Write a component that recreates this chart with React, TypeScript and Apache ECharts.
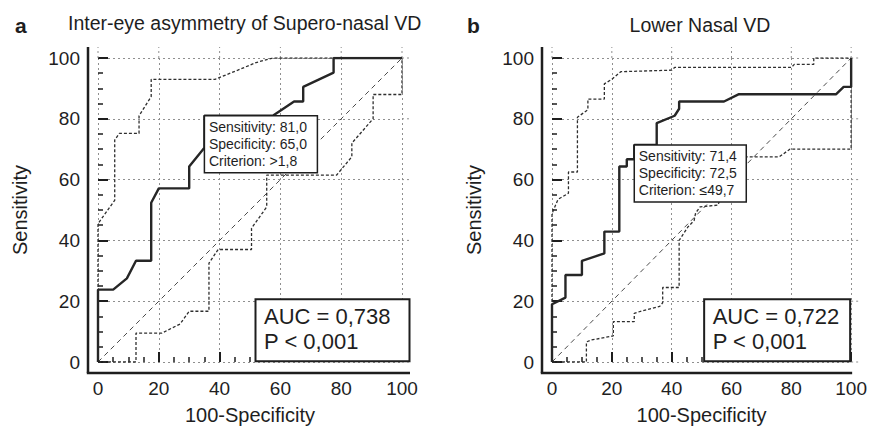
import React, { useEffect, useRef } from "react";
import * as echarts from "echarts";

const FONT = '"Liberation Sans", Arial, Helvetica, sans-serif';
const INK = "#1e1e1e";

// tick labels
const majorTicks = [0, 20, 40, 60, 80, 100];

// Panel a : Inter-eye asymmetry of Supero-nasal VD  [100-Specificity, Sensitivity]
const leftRoc = [
  [0, 0], [0, 23.8], [5, 23.8], [9.5, 27.5], [12.5, 33.3], [17.5, 33.3], [17.5, 52.4],
  [20, 57.1], [30, 57.1], [30, 64.3], [35, 70.5], [35, 81], [57.5, 81], [64.5, 85.7],
  [67.5, 85.7], [67.5, 90.5], [77.5, 95.2], [77.5, 100], [100, 100],
];
const leftUpper = [
  [0, 0], [0, 45.5], [5.5, 53.2], [5.5, 73], [7, 75.2], [13.5, 75.2], [13.5, 81],
  [17.5, 87.3], [17.5, 93], [38.5, 93], [46, 96], [52, 98.5], [57.5, 100], [100, 100],
];
const leftLower = [
  [0, 0], [12.5, 0], [12.5, 9.5], [21, 9.5], [27, 12.5], [30, 16.7], [36.5, 16.7],
  [36.5, 32.5], [39.5, 37], [50.5, 37], [50.5, 44], [55.5, 51], [55.5, 61.5],
  [78.5, 61.5], [83.5, 67.5], [83.5, 72], [90.5, 80], [90.5, 88], [100, 88], [100, 100],
];
const leftCriterion = [35, 81.0];
const leftCriterionText = ["Sensitivity: 81,0", "Specificity: 65,0", "Criterion: >1,8"];
const leftAucText = ["AUC = 0,738", "P < 0,001"];

// Panel b : Lower Nasal VD
const rightRoc = [
  [0, 0], [0, 19], [4.5, 21.2], [4.5, 28.6], [10, 28.6], [10, 33.3], [17.5, 35.7],
  [17.5, 42.9], [22.5, 42.9], [22.5, 64.3], [25, 64.3], [25, 66.7], [27.5, 66.7],
  [27.5, 71.4], [35, 71.4], [35, 78.6], [41, 81], [42.5, 83.3], [42.5, 85.7],
  [57.5, 85.7], [62.5, 88.1], [95, 88.1], [97.5, 90.5], [100, 90.5], [100, 100],
];
const rightUpper = [
  [0, 0], [0, 48.8], [2, 53.5], [5.5, 55.5], [5.5, 62.5], [8.5, 62.5], [8.5, 80.5],
  [12, 83], [12, 86.5], [17.5, 86.5], [17.5, 91.5], [20, 93], [23, 95.5], [40, 96],
  [41, 96.9], [80, 96.9], [81, 97.9], [87.5, 97.9], [87.5, 100], [100, 100],
];
const rightLower = [
  [0, 0], [11.5, 0], [11.5, 6.6], [13, 7.2], [20.5, 8.6], [20.5, 13.3], [27.5, 13.3],
  [27.5, 16], [30, 16.8], [36, 18.3], [37, 19.5], [37, 24.5], [42.5, 24.5], [42.5, 40],
  [45.5, 44.5], [47.5, 46.5], [48, 49], [49.5, 51], [55.5, 51.6], [57, 56], [62, 63],
  [64, 67.5], [76, 67.5], [79.5, 70], [100, 70], [100, 100],
];
const rightCriterion = [27.5, 71.4];
const rightCriterionText = ["Sensitivity: 71,4", "Specificity: 72,5", "Criterion: \u226449,7"];
const rightAucText = ["AUC = 0,722", "P < 0,001"];

const diagonal = [[0, 0], [100, 100]];

const titles = ["Inter-eye asymmetry of Supero-nasal VD", "Lower Nasal VD"];
const letters = ["a", "b"];

const panels = [
  {
    roc: leftRoc, upper: leftUpper, lower: leftLower, crit: leftCriterion,
    critText: leftCriterionText, auc: leftAucText, title: titles[0], letter: letters[0],
    grid: { left: 98, top: 58, width: 304, height: 304 },
    titleX: 68, titleAlign: "left", titleY: 23, letterX: 15,
    critW: 113, aucW: 154, aucRight: 7.5, axisExt: 8, gridExt: 9,
  },
  {
    roc: rightRoc, upper: rightUpper, lower: rightLower, crit: rightCriterion,
    critText: rightCriterionText, auc: rightAucText, title: titles[1], letter: letters[1],
    grid: { left: 552, top: 58, width: 303, height: 304 },
    titleX: 700, titleAlign: "center", titleY: 25, letterX: 467,
    critW: 112, aucW: 146, aucRight: -1, axisExt: 1, gridExt: 10,
  },
];

function axisCommon(name: string, nameGap: number, offset: number, labelMargin: number, i: number) {
  return {
    gridIndex: i,
    type: "value",
    min: 0,
    max: 100,
    interval: 20,
    offset,
    name,
    nameLocation: "middle",
    nameGap,
    nameTextStyle: { fontSize: 20, color: INK, fontFamily: FONT },
    axisLine: { show: false },
    axisTick: { show: true, inside: true, length: 10, lineStyle: { color: INK, width: 2 } },
    minorTick: { show: true, splitNumber: 4, length: 5, lineStyle: { color: INK, width: 1.5 } },
    axisLabel: { fontSize: 19, color: INK, fontFamily: FONT, margin: labelMargin },
    splitLine: { show: true, lineStyle: { color: "#8f8f8f", width: 1, type: [2, 3] } },
    minorSplitLine: { show: false },
  };
}

export default function App() {
  const ref = useRef<HTMLDivElement>(null);

  useEffect(() => {
    document.body.style.margin = "0";
    const chart = echarts.init(ref.current as HTMLDivElement, null, { renderer: "svg" });

    const series: any[] = [];
    panels.forEach((p, i) => {
      const base = { type: "line", xAxisIndex: i, yAxisIndex: i, showSymbol: false, symbol: "none", silent: true };
      series.push({ ...base, data: diagonal, z: 2, lineStyle: { color: "#4a4a4a", width: 1, type: [5, 4] } });
      series.push({ ...base, data: p.upper, z: 3, lineStyle: { color: "#2e2e2e", width: 1.3, type: [3, 2] } });
      series.push({ ...base, data: p.lower, z: 3, lineStyle: { color: "#2e2e2e", width: 1.3, type: [3, 2] } });
      series.push({ ...base, data: p.roc, z: 4, lineStyle: { color: "#262626", width: 2.4 } });
    });

    chart.setOption({
      animation: false,
      backgroundColor: "#ffffff",
      grid: panels.map((p) => ({ ...p.grid, containLabel: false })),
      xAxis: panels.map((_, i) => axisCommon("100-Specificity", 32, 11, 6, i)),
      yAxis: panels.map((_, i) => axisCommon("Sensitivity", 58, 10, 8, i)),
      series,
    });

    const g: any[] = [];
    panels.forEach((p, i) => {
      const toPx = (v: number[]) => chart.convertToPixel({ gridIndex: i }, v) as number[];
      const [x0, y0] = toPx([0, 0]);
      const [x1, y1] = toPx([100, 100]);

      // grid extensions beyond 100
      majorTicks.forEach((t) => {
        const [tx] = toPx([t, 0]);
        const [, ty] = toPx([0, t]);
        g.push({
          type: "line", silent: true, z: 1,
          shape: { x1: tx, y1: y1, x2: tx, y2: y1 - 11 },
          style: { stroke: "#8f8f8f", lineWidth: 1, lineDash: [2, 3] },
        });
        g.push({
          type: "line", silent: true, z: 1,
          shape: { x1: x1, y1: ty, x2: x1 + p.gridExt, y2: ty },
          style: { stroke: "#8f8f8f", lineWidth: 1, lineDash: [2, 3] },
        });
      });

      // axis lines (offset from data area)
      g.push({
        type: "line", silent: true, z: 60,
        shape: { x1: x0 - 10, y1: y1 - 11, x2: x0 - 10, y2: y0 + 11 },
        style: { stroke: INK, lineWidth: 2.5 },
      });
      g.push({
        type: "line", silent: true, z: 60,
        shape: { x1: x0 - 11.2, y1: y0 + 11, x2: x1 + p.axisExt, y2: y0 + 11 },
        style: { stroke: INK, lineWidth: 2.5 },
      });

      // criterion box anchored at the optimal point
      const [cx, cy] = toPx(p.crit);
      g.push({
        type: "rect", silent: true, z: 70,
        shape: { x: cx, y: cy, width: p.critW, height: 57 },
        style: { fill: "#ffffff", stroke: INK, lineWidth: 1.5 },
      });
      g.push({
        type: "text", silent: true, z: 71,
        x: cx + 4.5, y: cy + 3,
        style: {
          text: p.critText.join("\n"), fill: INK, fontSize: 14, fontFamily: FONT,
          lineHeight: 17, align: "left", verticalAlign: "top",
        },
      });

      // AUC box
      const boxRight = x1 + p.aucRight;
      const boxBottom = y0 - 0.7;
      g.push({
        type: "rect", silent: true, z: 70,
        shape: { x: boxRight - p.aucW, y: boxBottom - 62, width: p.aucW, height: 62 },
        style: { fill: "#ffffff", stroke: INK, lineWidth: 2 },
      });
      g.push({
        type: "text", silent: true, z: 71,
        x: boxRight - p.aucW + 8.5, y: boxBottom - 62 + 5,
        style: {
          text: p.auc.join("\n"), fill: INK, fontSize: 22, fontFamily: FONT,
          lineHeight: 25, align: "left", verticalAlign: "top",
        },
      });

      // title and panel letter
      g.push({
        type: "text", silent: true, z: 80,
        x: p.titleX, y: p.titleY,
        style: {
          text: p.title, fill: INK, fontSize: 19.5, fontFamily: FONT,
          align: p.titleAlign, verticalAlign: "middle",
        },
      });
      g.push({
        type: "text", silent: true, z: 80,
        x: p.letterX, y: 25,
        style: {
          text: p.letter, fill: INK, fontSize: 21, fontWeight: "bold", fontFamily: FONT,
          align: "left", verticalAlign: "middle",
        },
      });
    });

    chart.setOption({ graphic: g });

    return () => chart.dispose();
  }, []);

  return (
    <div
      ref={ref}
      style={{ position: "absolute", left: 0, top: 0, width: 870, height: 431, background: "#fff" }}
    />
  );
}
